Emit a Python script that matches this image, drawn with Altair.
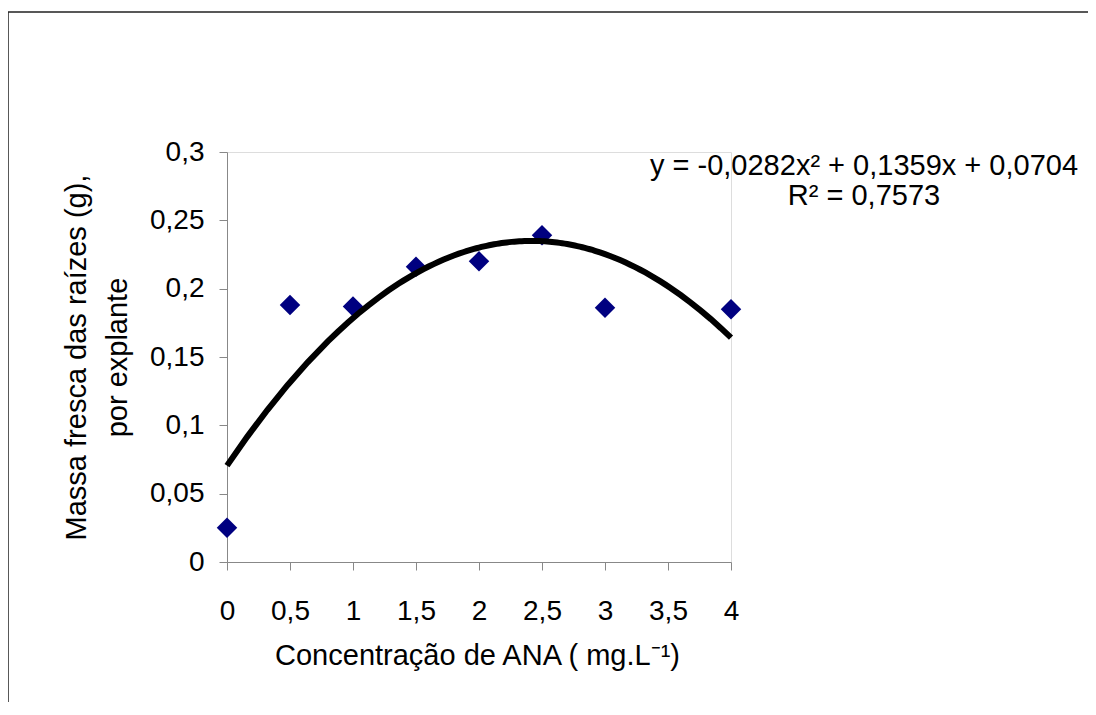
import altair as alt
import pandas as pd

# Data
conc = [0, 0.5, 1, 1.5, 2, 2.5, 3, 4]
massa = [0.025, 0.188, 0.187, 0.216, 0.220, 0.239, 0.186, 0.185]

x_ticks = [0, 0.5, 1, 1.5, 2, 2.5, 3, 3.5, 4]
y_ticks = [0, 0.05, 0.1, 0.15, 0.2, 0.25, 0.3]

eq_lines = ["y = -0,0282x² + 0,1359x + 0,0704", "R² = 0,7573"]
x_title = "Concentração de ANA ( mg.L⁻¹)"
y_title = ["Massa fresca das raízes (g),", "por explante"]

df = pd.DataFrame({"x": conc, "y": massa})
one = pd.DataFrame({"k": [0]})

FONT = "Liberation Sans"
W, H = 504, 410
AXC = "#333333"

x_enc = alt.X(
    "x:Q",
    scale=alt.Scale(domain=[0, 4], nice=False, zero=False),
    axis=alt.Axis(
        values=x_ticks,
        labelExpr="replace(format(datum.value, '.1~f'), '.', ',')",
        labelFlush=False,
        labelOverlap=False,
        title=x_title,
        titleX=250,
        titleY=102,
        titleAlign="center",
        titleBaseline="alphabetic",
        titleFontSize=29,
        titleFontWeight="normal",
        labelFontSize=28,
        labelBaseline="alphabetic",
        labelPadding=49,
        tickSize=8,
        grid=False,
    ),
)
y_enc = alt.Y(
    "y:Q",
    scale=alt.Scale(domain=[0, 0.3], nice=False),
    axis=alt.Axis(
        values=y_ticks,
        labelExpr="replace(format(datum.value, '.2~f'), '.', ',')",
        labelFlush=False,
        labelOverlap=False,
        title=y_title,
        titleAngle=270,
        titleX=-142,
        titleY=205,
        titleAlign="center",
        titleBaseline="alphabetic",
        titleLineHeight=41,
        titleFontSize=29,
        titleFontWeight="normal",
        labelFontSize=28,
        labelPadding=15,
        tickSize=8,
        grid=False,
    ),
)

base = alt.Chart(df)

points = base.mark_point(
    shape="diamond", filled=True, color="#000080", size=420, opacity=1
).encode(x=x_enc, y=y_enc)

trend = base.transform_regression(
    "x", "y", method="poly", order=2
).mark_line(color="black", strokeWidth=6).encode(x="x:Q", y="y:Q")

equation = alt.Chart(one).mark_text(
    align="center", baseline="alphabetic", fontSize=29, lineHeight=30,
    font=FONT, color="black"
).encode(
    x=alt.value(637), y=alt.value(23), text=alt.value(eq_lines)
)

frame = alt.Chart(one).mark_rect(
    fillOpacity=0, stroke="#222222", strokeWidth=1.5
).encode(
    x=alt.value(-219), x2=alt.value(866), y=alt.value(-140), y2=alt.value(580)
)

chart = alt.layer(frame, points, trend, equation).properties(
    width=W, height=H,
    autosize=alt.AutoSizeParams(type="none"),
    padding={"left": 219, "top": 144, "right": 357, "bottom": 140},
).configure_view(strokeWidth=0).configure_axis(
    labelFont=FONT, titleFont=FONT, labelColor="black", titleColor="black",
    domainColor=AXC, tickColor=AXC, domainWidth=1, tickWidth=1,
).configure(background="white")

chart.save("out.html", embed_options={"renderer": "svg", "actions": False})
